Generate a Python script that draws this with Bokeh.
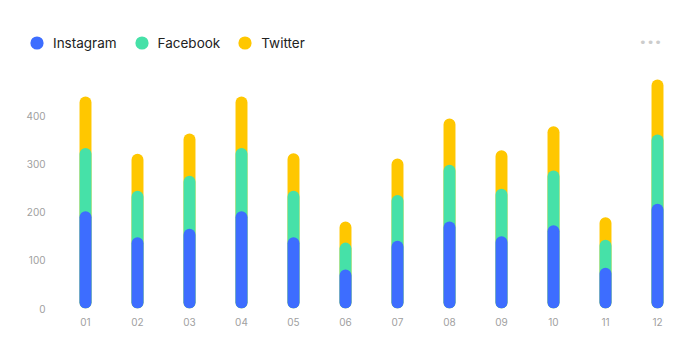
from bokeh.plotting import figure
from bokeh.layouts import column, row
from bokeh.models import FactorRange, Range1d, FixedTicker, Legend, LegendItem, Label, ColumnDataSource
from bokeh.embed import file_html
from bokeh.resources import INLINE

months = ["01", "02", "03", "04", "05", "06", "07", "08", "09", "10", "11", "12"]
instagram = [202, 148, 166, 202, 148, 81, 141, 181, 150, 173, 85, 218]
facebook = [132, 97, 110, 132, 97, 56, 95, 118, 99, 114, 58, 144]
twitter = [107, 77, 88, 107, 78, 44, 76, 96, 80, 92, 47, 114]
series_names = ["Instagram", "Facebook", "Twitter"]
colors = ["#3D6DFF", "#46E1A8", "#FFC700"]
y_ticks = [0, 100, 200, 300, 400]

lvl1 = instagram
lvl2 = [a + b for a, b in zip(instagram, facebook)]
lvl3 = [a + b + c for a, b, c in zip(instagram, facebook, twitter)]
src = ColumnDataSource(dict(month=months, ig=lvl1, fb=lvl2, tw=lvl3))

# ---- legend strip ----
lg = figure(width=692, height=62, x_range=Range1d(0, 1), y_range=Range1d(0, 1),
            x_axis_type=None, y_axis_type=None, output_backend="svg", toolbar_location=None,
            min_border_left=0, min_border_right=0, min_border_top=0, min_border_bottom=0)
lg.outline_line_color = None
lg.background_fill_color = "white"
lg.border_fill_color = "white"

items = []
for name, c, col in zip(series_names, colors, ["ig", "fb", "tw"]):
    r = lg.scatter(x=col, y=col, source=src, marker="circle", size=13,
                   fill_color=c, line_color=None, visible=False)
    items.append(LegendItem(label=name, renderers=[r]))

legend = Legend(items=items, orientation="horizontal", location=(20, 3),
                glyph_width=33, glyph_height=33, label_standoff=-3, spacing=8,
                padding=0, margin=0, border_line_color=None, background_fill_alpha=0,
                inactive_fill_alpha=0,
                label_text_font="Inter", label_text_font_size="13.5px", label_text_color="#222222")
lg.add_layout(legend)

dots = Label(x=650, y=20, x_units="screen", y_units="screen", text="•••",
             text_align="center", text_baseline="middle", text_font="DejaVu Sans",
             text_font_size="13px", text_color="#cccccc")
lg.add_layout(dots)

# ---- chart ----
p = figure(x_range=FactorRange(*months), y_range=Range1d(0, 511.6),
           width=692, height=298, output_backend="svg", toolbar_location=None,
           min_border_left=59, min_border_right=9, min_border_top=0, min_border_bottom=52)
p.outline_line_color = None
p.xgrid.visible = False
p.ygrid.visible = False
p.background_fill_color = "white"
p.border_fill_color = "white"

# draw from top level to bottom so lower segments overlap with their rounded caps
for col, c in [("tw", colors[2]), ("fb", colors[1]), ("ig", colors[0])]:
    p.vbar(x="month", top=col, bottom=0, width=0.23, fill_color=c, line_color=None,
           border_radius=6, source=src)

axis_font = "Inter"
p.yaxis.ticker = FixedTicker(ticks=y_ticks)
p.yaxis.axis_line_color = None
p.yaxis.major_tick_line_color = None
p.yaxis.minor_tick_line_color = None
p.yaxis.major_tick_out = 0
p.yaxis.major_tick_in = 0
p.yaxis.minor_tick_out = 0
p.yaxis.major_label_standoff = 14
p.yaxis.major_label_text_font = axis_font
p.yaxis.major_label_text_font_size = "10px"
p.yaxis.major_label_text_color = "#a0a0a0"

p.xaxis.axis_line_color = None
p.xaxis.major_tick_line_color = None
p.xaxis.minor_tick_line_color = None
p.xaxis.major_tick_out = 0
p.xaxis.major_tick_in = 0
p.xaxis.major_label_standoff = 9
p.xaxis.major_label_text_font = axis_font
p.xaxis.major_label_text_font_size = "10px"
p.xaxis.major_label_text_color = "#a0a0a0"

layout = column(row(lg), p, spacing=0)
open("out.html", "w").write(file_html(layout, INLINE))
